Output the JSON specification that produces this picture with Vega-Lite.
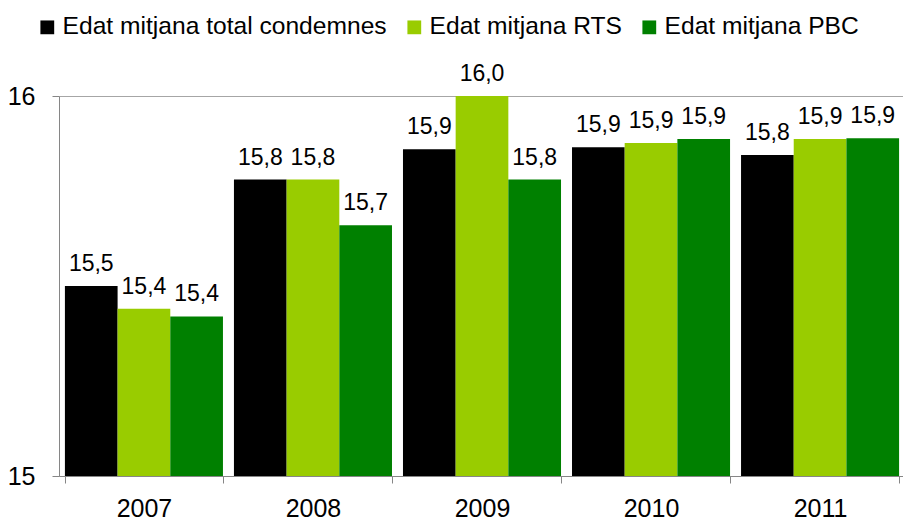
{
  "$schema": "https://vega.github.io/schema/vega-lite/v6.json",
  "width": 846,
  "height": 380,
  "autosize": {"type": "none"},
  "padding": {"left": 59, "top": 96, "right": 0, "bottom": 44},
  "background": "white",
  "config": {
    "view": {"stroke": null},
    "font": "Liberation Sans",
    "text": {"font": "Liberation Sans"}
  },
  "data": {
    "values": [
      {"year": "2007", "serie": "Edat mitjana total condemnes", "edat": 15.50, "label": "15,5"},
      {"year": "2007", "serie": "Edat mitjana RTS", "edat": 15.44, "label": "15,4"},
      {"year": "2007", "serie": "Edat mitjana PBC", "edat": 15.42, "label": "15,4"},
      {"year": "2008", "serie": "Edat mitjana total condemnes", "edat": 15.78, "label": "15,8"},
      {"year": "2008", "serie": "Edat mitjana RTS", "edat": 15.78, "label": "15,8"},
      {"year": "2008", "serie": "Edat mitjana PBC", "edat": 15.66, "label": "15,7"},
      {"year": "2009", "serie": "Edat mitjana total condemnes", "edat": 15.86, "label": "15,9"},
      {"year": "2009", "serie": "Edat mitjana RTS", "edat": 16.00, "label": "16,0"},
      {"year": "2009", "serie": "Edat mitjana PBC", "edat": 15.78, "label": "15,8"},
      {"year": "2010", "serie": "Edat mitjana total condemnes", "edat": 15.865, "label": "15,9"},
      {"year": "2010", "serie": "Edat mitjana RTS", "edat": 15.876, "label": "15,9"},
      {"year": "2010", "serie": "Edat mitjana PBC", "edat": 15.887, "label": "15,9"},
      {"year": "2011", "serie": "Edat mitjana total condemnes", "edat": 15.845, "label": "15,8"},
      {"year": "2011", "serie": "Edat mitjana RTS", "edat": 15.887, "label": "15,9"},
      {"year": "2011", "serie": "Edat mitjana PBC", "edat": 15.889, "label": "15,9"}
    ]
  },
  "encoding": {
    "x": {
      "field": "year",
      "type": "nominal",
      "scale": {"paddingInner": 0.065, "paddingOuter": 0.035},
      "axis": {
        "title": null,
        "labelAngle": 0,
        "labelFontSize": 25,
        "labelColor": "#000000",
        "labelFont": "Liberation Sans",
        "tickBand": "extent",
        "tickSize": 7,
        "tickColor": "#868686",
        "domainColor": "#868686",
        "labelPadding": 13,
        "grid": false,
        "zindex": 1
      }
    },
    "xOffset": {
      "field": "serie",
      "type": "nominal",
      "scale": {"domain": ["Edat mitjana total condemnes", "Edat mitjana RTS", "Edat mitjana PBC"]}
    },
    "y": {
      "field": "edat",
      "type": "quantitative",
      "scale": {"domain": [15, 16], "zero": false, "nice": false},
      "axis": {
        "title": null,
        "values": [15, 16],
        "format": ".0f",
        "labelFontSize": 25,
        "labelColor": "#000000",
        "labelFont": "Liberation Sans",
        "tickSize": 7,
        "tickColor": "#868686",
        "domainColor": "#868686",
        "labelPadding": 17,
        "grid": true,
        "gridColor": "#a6a6a6"
      }
    }
  },
  "layer": [
    {
      "mark": {"type": "bar"},
      "encoding": {
        "y2": {"datum": 15},
        "color": {
          "field": "serie",
          "type": "nominal",
          "scale": {
            "domain": ["Edat mitjana total condemnes", "Edat mitjana RTS", "Edat mitjana PBC"],
            "range": ["#000000", "#99CC00", "#008000"]
          },
          "legend": {
            "title": null,
            "orient": "none",
            "direction": "horizontal",
            "legendX": -24,
            "legendY": -81,
            "symbolType": "square",
            "symbolSize": 190,
            "symbolStrokeWidth": 0,
            "labelFontSize": 24.6,
            "labelFont": "Liberation Sans",
            "labelColor": "#000000",
            "labelLimit": 0,
            "labelOffset": 3,
            "columnPadding": 15
          }
        }
      }
    },
    {
      "mark": {"type": "text", "dy": -15, "baseline": "alphabetic", "fontSize": 23, "color": "#000000"},
      "encoding": {"text": {"field": "label"}}
    }
  ]
}
